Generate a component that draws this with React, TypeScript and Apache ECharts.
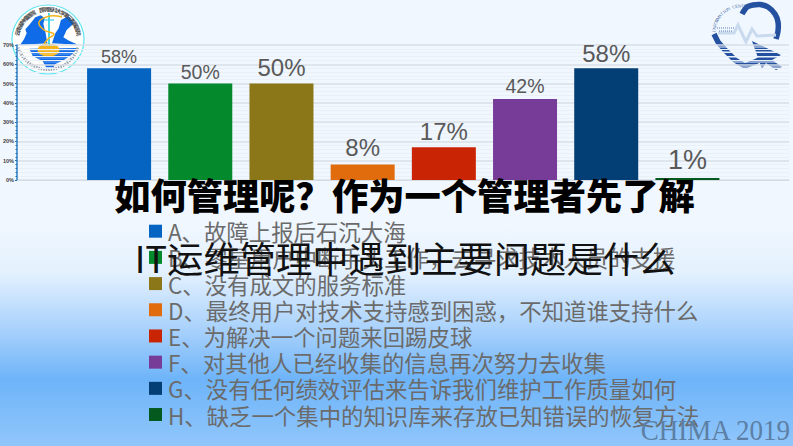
import React, { useEffect, useRef } from "react";
import * as echarts from "echarts";

const barLabels = ["A", "B", "C", "D", "E", "F", "G", "H"];
const values = [58, 50, 50, 8, 17, 42, 58, 1];
const colors = ["#0563C1", "#04892C", "#8C7718", "#E06C0E", "#C92505", "#763C98", "#033E74", "#04591F"];
const labelSizes = [18, 19.5, 24, 24, 24, 19.5, 24, 27];
const labelGaps = [2, 2, 4, 5, 4, 3, 3, 5];
const legendTexts = [
  "A、故障上报后石沉大海",
  "B、零星用户中断手头工作\uFF0C去寻求技术人员的支援",
  "C、没有成文的服务标准",
  "D、最终用户对技术支持感到困惑\uFF0C不知道谁支持什么",
  "E、为解决一个问题来回踢皮球",
  "F、对其他人已经收集的信息再次努力去收集",
  "G、没有任何绩效评估来告诉我们维护工作质量如何",
  "H、缺乏一个集中的知识库来存放已知错误的恢复方法",
];
const titleLine1 = "如何管理呢\uFF1F作为一个管理者先了解";
const titleLine2 = "IT运维管理中遇到主要问题是什么";
const watermark = "CHIMA 2019";
const ringText = "云南省肿瘤医院 昆明医科大学第三附属医院";
const heartText = "INFORMATION CENTER";

const CJK = '"Noto Sans CJK SC", "Noto Sans", sans-serif';
const p3 = (pts: number[][]) => pts.map(([x, y]) => [x / 3, y / 3]);

function leftLogo() {
  const blue = "#0F6BE8";
  const cx = 48, cy = 39.5;
  const els: any[] = [
    { type: "ellipse", shape: { cx, cy, rx: 36, ry: 34.5 }, style: { fill: "#fff", stroke: "#5FE6EE", lineWidth: 1.2 } },
    { type: "polygon", shape: { points: p3([[60,135],[72,118],[80,100],[76,88],[90,72],[106,52],[122,46],[134,54],[130,72],[137,100],[142,130]]) }, style: { fill: blue } },
    { type: "polygon", shape: { points: p3([[156,130],[166,100],[176,85],[183,60],[205,48],[222,70],[200,90],[190,112],[207,122],[234,134]]) }, style: { fill: blue } },
    { type: "polygon", shape: { points: p3([[88,146],[232,144],[218,162],[192,180],[166,192],[160,202],[138,202],[128,184],[98,168]]) }, style: { fill: blue } },
    { type: "ellipse", shape: { cx: 48.5, cy: 50, rx: 11, ry: 6.5 }, style: { fill: "#F4B31A" } },
  ];
  [50, 54, 58, 62].forEach((y) => {
    els.push({ type: "line", shape: { x1: 28, y1: y, x2: 78, y2: y }, style: { stroke: "#fff", lineWidth: 0.5, opacity: 0.7 } });
  });
  els.push({ type: "line", shape: { x1: 49, y1: 13, x2: 49, y2: 46 }, style: { stroke: "#37D3E6", lineWidth: 1.8 } });
  els.push({ type: "line", shape: { x1: 44, y1: 20, x2: 54, y2: 20 }, style: { stroke: "#37D3E6", lineWidth: 1.2 } });
  els.push({ type: "polyline", shape: { points: [[62,17],[50,16],[39,22],[44,30],[54,34],[48,39],[44,44]], smooth: 0.4 }, style: { stroke: "#F4B31A", fill: "none", lineWidth: 1.5 } });
  const chars = Array.from(ringText);
  chars.forEach((ch, i) => {
    const a = (-168 + (i * 156) / (chars.length - 1)) * Math.PI / 180;
    els.push({
      type: "text", x: cx + 31 * Math.cos(a), y: cy + 30 * Math.sin(a),
      rotation: -(a + Math.PI / 2),
      style: { text: ch, fontSize: 5.5, fontFamily: CJK, fontWeight: "bold", fill: "#444", align: "center", verticalAlign: "middle" },
    });
  });
  els.push({ type: "arc", shape: { cx, cy: cy - 1, r: 31, startAngle: 0.3, endAngle: Math.PI - 0.3 }, style: { stroke: "#9aa3ad", lineWidth: 3, fill: "none", lineDash: [1.5, 1] } });
  return els.map((e) => ({ ...e, z: -5, silent: true }));
}

function rightLogo() {
  const navy = "#2351A0";
  const els: any[] = [
    { type: "polyline", shape: { points: [[742,14],[747,7],[753,5],[760,4.5],[768,7],[775,14],[778,22],[778,31],[776,39]], smooth: 0.3 }, style: { stroke: navy, fill: "none", lineWidth: 5.5 } },
    { type: "polyline", shape: { points: [[714,34],[718,42],[726,51],[735,60],[745,66],[757,61],[765,57]] }, style: { stroke: navy, fill: "none", lineWidth: 5.5 } },
    { type: "polyline", shape: { points: [[718,33],[734,33],[738,25],[746,42],[752,29],[757,36],[776,35]] }, style: { stroke: "#C9D9EE", fill: "none", lineWidth: 3 } },
    { type: "polygon", shape: { points: [[752,41],[781,55],[772,60],[782,67],[776,70],[766,63],[762,69]] }, style: { fill: navy } },
    { type: "line", shape: { x1: 717, y1: 28, x2: 735, y2: 28 }, style: { stroke: navy, lineWidth: 1.2, lineDash: [1, 1], opacity: 0.7 } },
    { type: "line", shape: { x1: 719, y1: 31, x2: 732, y2: 31 }, style: { stroke: navy, lineWidth: 1.2, lineDash: [1, 1], opacity: 0.7 } },
  ];
  [47, 52, 57, 62, 67].forEach((y) => {
    els.push({ type: "line", shape: { x1: 712, y1: y, x2: 784, y2: y }, style: { stroke: "#F0F7FF", lineWidth: 1.2 } });
  });
  const chars = Array.from(heartText);
  chars.forEach((ch, i) => {
    const a = (-178 + (i * 103) / (chars.length - 1)) * Math.PI / 180;
    els.push({
      type: "text", x: 741 + 27 * Math.cos(a), y: 32 + 26 * Math.sin(a),
      rotation: -(a + Math.PI / 2),
      style: { text: ch, fontSize: 4.5, fontFamily: "Liberation Serif", fill: "#3c5f9e", align: "center", verticalAlign: "middle" },
    });
  });
  return els.map((e) => ({ ...e, z: -5, silent: true }));
}

export default function App() {
  const ref = useRef<HTMLDivElement>(null);
  useEffect(() => {
    const chart = echarts.init(ref.current!, null, { renderer: "svg" });
    const barSeries = barLabels.map((name, i) => ({
      type: "bar" as const,
      name: legendTexts[i],
      xAxisIndex: 1,
      yAxisIndex: 1,
      stack: "all",
      barWidth: 64,
      data: barLabels.map((_, j) => (j === i ? values[i] : null)),
      itemStyle: { color: colors[i] },
      label: {
        show: true,
        position: "top" as const,
        distance: labelGaps[i],
        formatter: "{c}%",
        fontSize: labelSizes[i],
        fontFamily: "Liberation Sans",
        color: "#595959",
      },
    }));
    chart.setOption({
      animation: false,
      backgroundColor: {
        type: "linear", x: 0, y: 0, x2: 0, y2: 1,
        colorStops: [
          { offset: 0, color: "#F0F7FF" },
          { offset: 0.5, color: "#F0F7FF" },
          { offset: 0.61, color: "#E4F1FE" },
          { offset: 0.68, color: "#C4E0FD" },
          { offset: 0.755, color: "#A0CDFB" },
          { offset: 0.85, color: "#6EB4F9" },
          { offset: 1, color: "#90C6FB" },
        ],
      },
      grid: [
        { left: 17, top: 45, width: 772, height: 135 },
        { left: 78.5, top: 45, width: 649.5, height: 135 },
      ],
      xAxis: [
        { type: "category", gridIndex: 0, data: [""], axisLine: { show: true, lineStyle: { color: "#D5DBE3" } }, axisTick: { show: false }, axisLabel: { show: false } },
        { type: "category", gridIndex: 1, data: barLabels, axisLine: { show: false }, axisTick: { show: false }, axisLabel: { show: false } },
      ],
      yAxis: [
        {
          type: "value", gridIndex: 0, min: 0, max: 70, interval: 10,
          axisLine: { show: true, lineStyle: { color: "#2E7CC4", width: 1.5 } },
          axisTick: { show: true, length: 2, inside: false, lineStyle: { color: "#1F6DB5" } },
          minorTick: { show: true, splitNumber: 5, length: 1.5, lineStyle: { color: "#1F6DB5" } },
          axisLabel: { formatter: "{value}%", fontSize: 5.5, fontWeight: "bold", fontFamily: "Liberation Sans", color: "#444", margin: 3 },
          splitLine: { show: true, lineStyle: { color: "#DADFE6", width: 1.5 } },
          minorSplitLine: { show: true, lineStyle: { color: "#EAF0F7", width: 1 } },
        },
        { type: "value", gridIndex: 1, min: 0, max: 70, interval: 10, axisLine: { show: false }, axisTick: { show: false }, axisLabel: { show: false }, splitLine: { show: false } },
      ],
      legend: {
        orient: "vertical", left: 144, top: 215, itemWidth: 13, itemHeight: 13, itemGap: 3.8, icon: "rect",
        selectedMode: false, z: 20,
        textStyle: { fontSize: 22.4, fontFamily: CJK, color: "#6B6B6B", padding: [0, 0, 0, 1] },
        data: legendTexts,
      },
      series: barSeries,
      graphic: [
        ...leftLogo(),
        ...rightLogo(),
        { type: "text", x: 404.5, y: 194, z: 50, style: { text: titleLine1, fontSize: 36.3, fontWeight: 900, fontFamily: CJK, fill: "#000", align: "center", verticalAlign: "middle" } },
        { type: "text", x: 405, y: 257, z: 50, style: { text: titleLine2, fontSize: 36.3, fontFamily: CJK, fill: "#111", align: "center", verticalAlign: "middle" } },
        { type: "text", x: 790, y: 430, scaleX: 0.9, z: 50, style: { text: watermark, fontSize: 30, fontFamily: "Liberation Serif", fill: "#5C7FA5", align: "right", verticalAlign: "middle" } },
      ],
    });
    return () => chart.dispose();
  }, []);
  return <div ref={ref} style={{ position: "fixed", left: 0, top: 0, width: 793, height: 446 }} />;
}
